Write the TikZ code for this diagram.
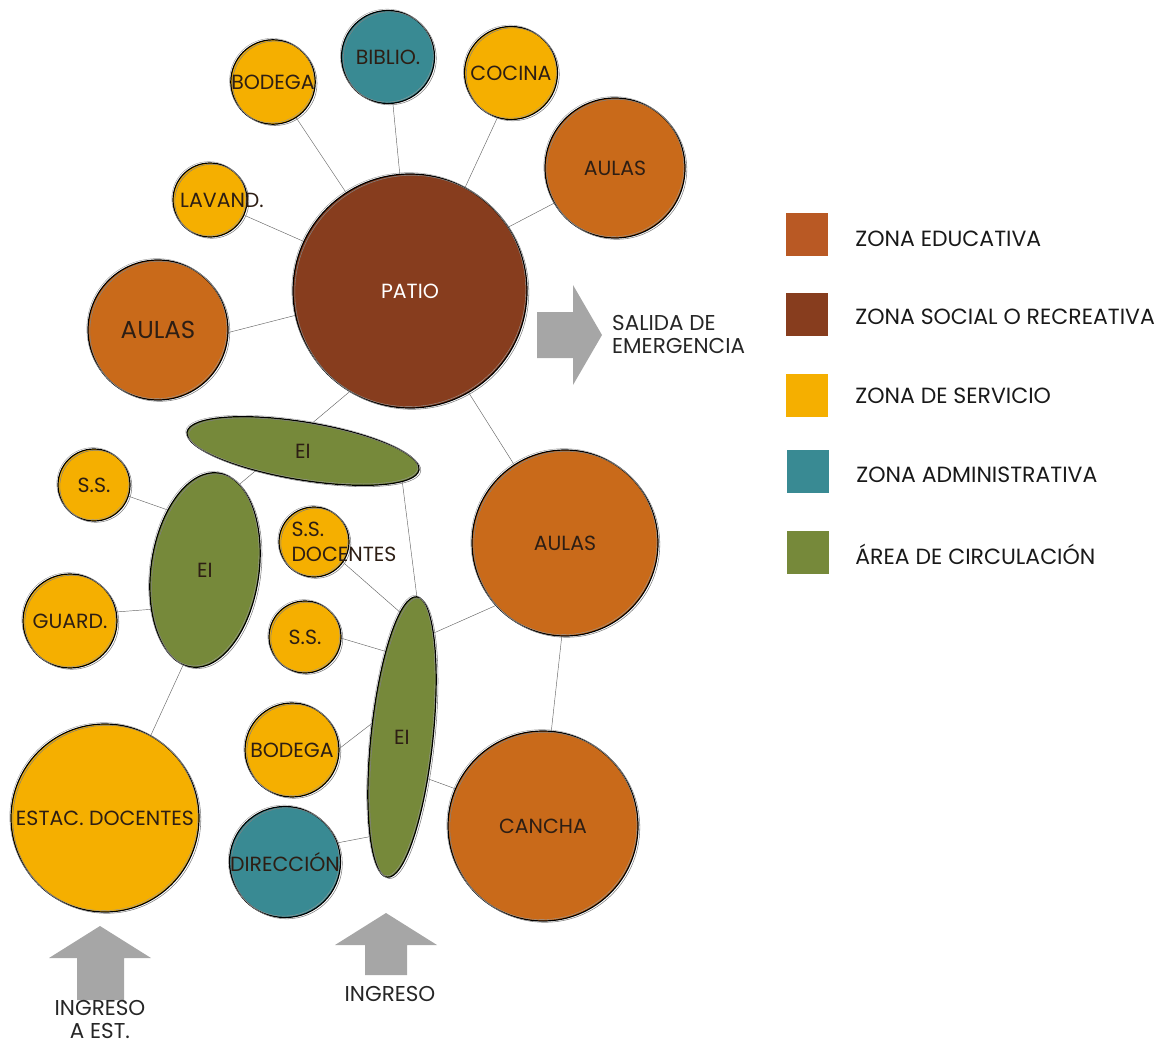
\documentclass[tikz,border=0pt]{standalone}
\usepackage{fontspec}
\setmainfont{Poppins}
\usetikzlibrary{shapes.geometric, positioning, backgrounds}

\definecolor{educativa}{RGB}{201,106,26}
\definecolor{educativaleg}{RGB}{185,89,36}
\definecolor{social}{RGB}{135,61,30}
\definecolor{servicio}{RGB}{245,175,0}
\definecolor{administrativa}{RGB}{57,138,147}
\definecolor{circulacion}{RGB}{118,137,58}
\definecolor{flechagris}{RGB}{166,166,166}
\definecolor{tinta}{RGB}{45,30,20}

\newcommand{\txt}{\fontsize{20.5}{25}\selectfont}
\newcommand{\txtg}{\fontsize{24.5}{28}\selectfont}
\newcommand{\txtl}{\fontsize{22}{26}\selectfont}
\newcommand{\txtf}{\fontsize{21.5}{23}\selectfont}

\tikzset{
	boceto/.style={postaction={draw=black!50, line width=0.55pt, transform canvas={shift={(1.8pt,-1.3pt)}}},
		postaction={draw=black!40, line width=0.4pt, transform canvas={shift={(-1.2pt,1.4pt)}}}},
	zona/.style={circle, draw=black, line width=1.2pt, inner sep=0pt, minimum size=#1, font=\txt, text=tinta, boceto},
	circ/.style={ellipse, fill=circulacion, draw=black, line width=1.2pt, inner sep=0pt, font=\txt, text=tinta, boceto},
	enlace/.style={draw=black!60, line width=0.45pt},
	flecha/.style={fill=flechagris, draw=none},
	cuadro/.style={minimum width=42pt, minimum height=43pt, inner sep=0pt},
	leyenda/.style={font=\txtl, text=black!90, inner sep=0pt}
}

\begin{document}
\begin{tikzpicture}[x=1pt, y=-1pt]

	\useasboundingbox (0,0) rectangle (1164,1044);

	% zonas
	\node[zona=70, fill=servicio] (bodega1) at (273,82) {BODEGA};
	\node[zona=93, fill=administrativa] (biblio) at (388,57) {BIBLIO.};
	\node[zona=93, fill=servicio] (cocina) at (511,73) {COCINA};
	\node[zona=140, fill=educativa] (aulas1) at (615,168) {AULAS};
	\node[zona=74, fill=servicio, label={[font=\txt, text=tinta, xshift=12pt]center:LAVAND.}] (lavand) at (210,200) {};
	\node[zona=234, fill=social, text=white] (patio) at (410,291) {PATIO};
	\node[zona=140, fill=educativa, font=\txtg] (aulas2) at (158,330) {AULAS};

	\node[zona=72, fill=servicio] (ss1) at (94,485) {S.S.};
	\node[zona=94, fill=servicio] (guard) at (70,621) {GUARD.};
	\node[zona=70, fill=servicio, label={[font=\txt, text=tinta, align=left, xshift=30pt]center:S.S.\\DOCENTES}] (ssdoc) at (314,542) {};
	\node[zona=72, fill=servicio] (ss2) at (305,637) {S.S.};
	\node[zona=186, fill=educativa] (aulas3) at (565,543) {AULAS};
	\node[zona=94, fill=servicio] (bodega2) at (292,750) {BODEGA};
	\node[zona=94, fill=administrativa] (direc) at (285,862) {DIRECCIÓN};
	\node[zona=188, fill=servicio] (estac) at (105,818) {ESTAC. DOCENTES};
	\node[zona=190, fill=educativa] (cancha) at (543,826) {CANCHA};

	% circulacion
	\node[circ, minimum width=235, minimum height=58, rotate=-9.3] (ei1) at (303,451) {\rotatebox{9.3}{EI}};
	\node[circ, minimum width=108, minimum height=196, rotate=-8] (ei2) at (205,570) {\rotatebox{8}{EI}};
	\node[circ, minimum width=62, minimum height=282, rotate=-6] (ei3) at (402,737) {\rotatebox{6}{EI}};

	% enlaces
	\begin{scope}[on background layer]
		\draw[enlace] (bodega1.-57) -- (patio.123);
		\draw[enlace] (biblio.-84) -- (patio.95);
		\draw[enlace] (cocina.-107) -- (patio.62);
		\draw[enlace] (aulas1.210) -- (patio.33);
		\draw[enlace] (lavand.-24) -- (patio.155);
		\draw[enlace] (aulas2.-2) -- (patio.192);
		\draw[enlace] (patio.239) -- (ei2.76);
		\draw[enlace] (patio.-60) -- (aulas3.123);
		\draw[enlace] (ei1.-8) -- (ei3.90);
		\draw[enlace] (ss1.-18) -- (ei2.130);
		\draw[enlace] (guard.11) -- (ei2.224);
		\draw[enlace] (ei2.265) -- (estac.61);
		\draw[enlace] (ssdoc.-35) -- (ei3.97);
		\draw[enlace] (ss2.-2) -- (ei3.107);
		\draw[enlace] (aulas3.222) -- (ei3.79);
		\draw[enlace] (bodega2.2) -- (ei3.162);
		\draw[enlace] (direc.20) -- (ei3.258);
		\draw[enlace] (ei3.-52) -- (cancha.157);
		\draw[enlace] (aulas3.-92) -- (cancha.85);
	\end{scope}

	% flechas
	\fill[flecha] (537,312) -- (573,312) -- (573,285) -- (602,335) -- (573,385) -- (573,358) -- (537,358) -- cycle;
	\node[font=\txtf, text=black!85, align=left, anchor=west, inner sep=0pt] (salida) at (612,334) {SALIDA DE\\EMERGENCIA};

	\fill[flecha] (77,1000) -- (77,958) -- (49,958) -- (100,926) -- (151,958) -- (124,958) -- (124,1000) -- cycle;
	\node[font=\txtf, text=black!85, align=center, inner sep=0pt] (ingest) at (100,1019) {INGRESO\\A EST.};

	\fill[flecha] (365,975) -- (365,945) -- (335,945) -- (386,913) -- (437,945) -- (407,945) -- (407,975) -- cycle;
	\node[font=\txtf, text=black!85] (ingreso) at (390,994) {INGRESO};

	% leyenda
	\node[cuadro, fill=educativaleg] (leg1) at (807,234) {};
	\node[cuadro, fill=social] (leg2) at (807,314) {};
	\node[cuadro, fill=servicio] (leg3) at (807,395) {};
	\node[cuadro, fill=administrativa] (leg4) at (808,471) {};
	\node[cuadro, fill=circulacion] (leg5) at (808,552) {};

	\node[leyenda, right=27pt of leg1, yshift=-5pt] (txt1) {ZONA EDUCATIVA};
	\node[leyenda, right=27pt of leg2, yshift=-3pt] (txt2) {ZONA SOCIAL O RECREATIVA};
	\node[leyenda, right=27pt of leg3, yshift=-1pt] (txt3) {ZONA DE SERVICIO};
	\node[leyenda, right=27pt of leg4, yshift=-4pt] (txt4) {ZONA ADMINISTRATIVA};
	\node[leyenda, right=26pt of leg5, yshift=-2pt] (txt5) {ÁREA DE CIRCULACIÓN};
\end{tikzpicture}
\end{document}
